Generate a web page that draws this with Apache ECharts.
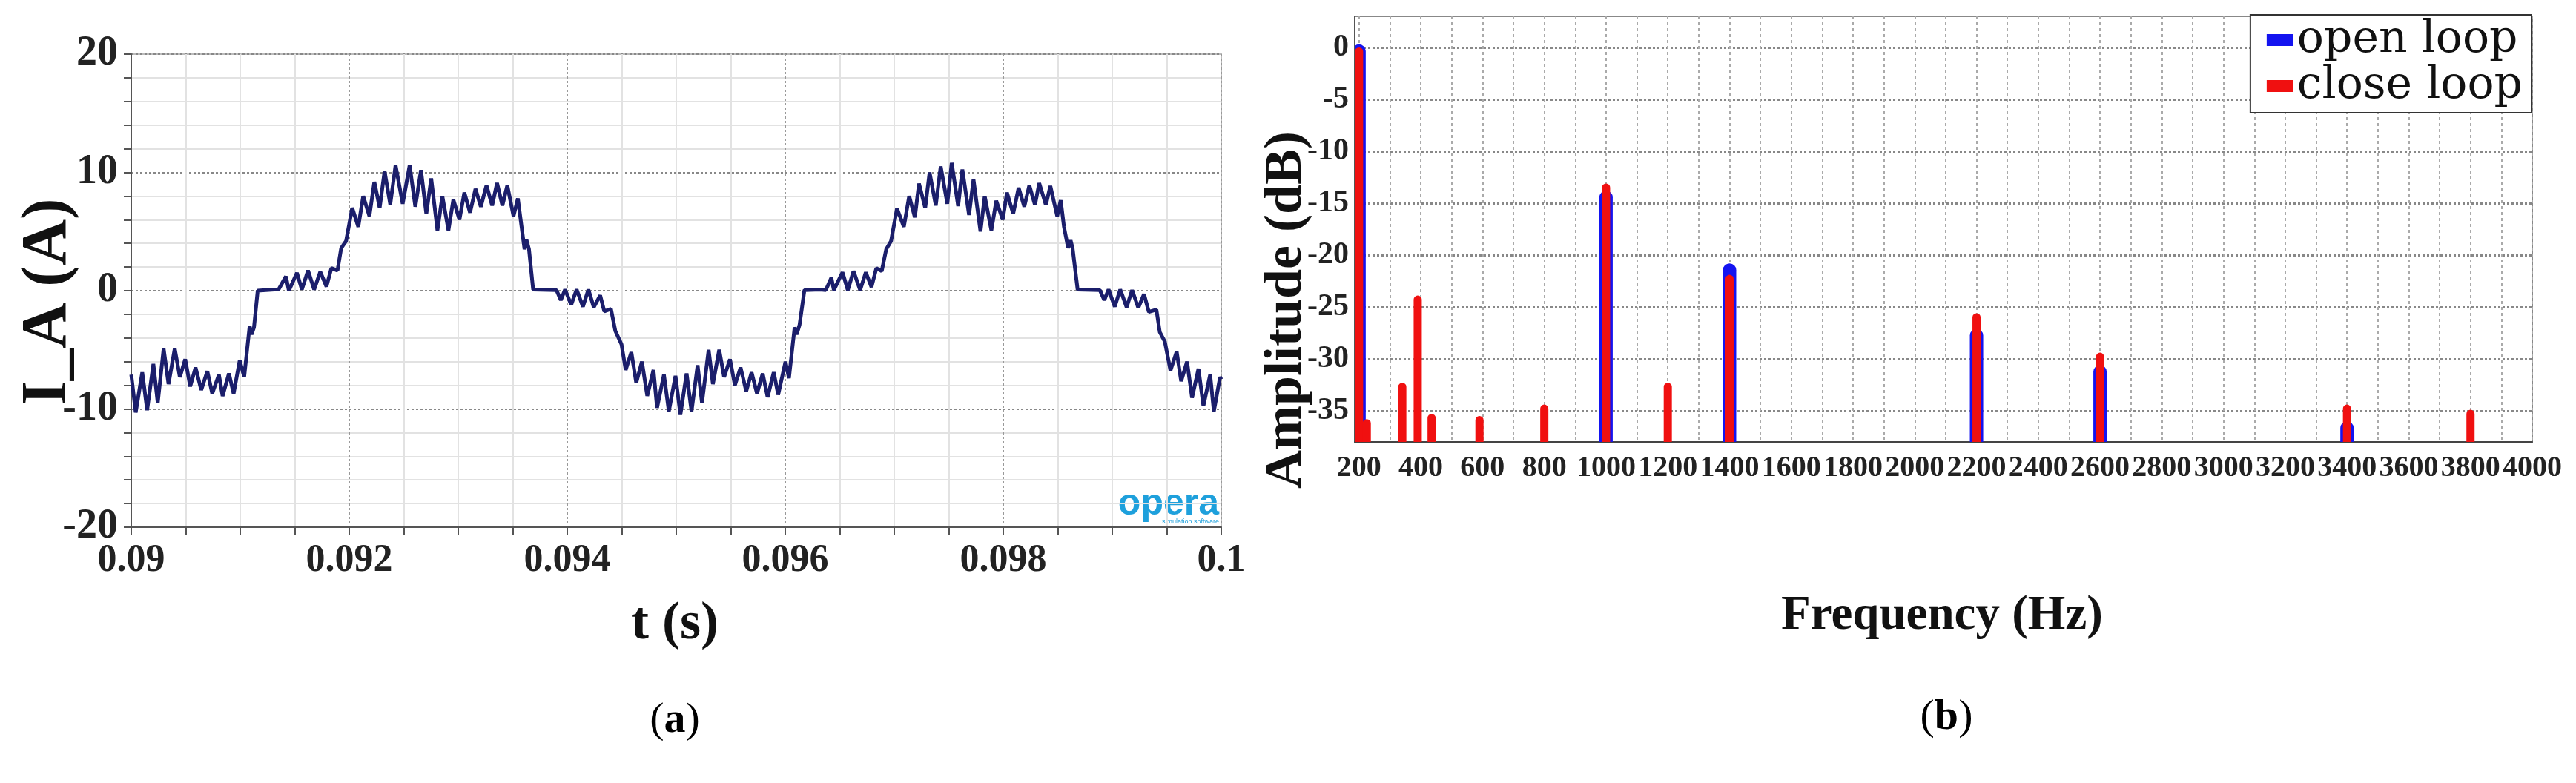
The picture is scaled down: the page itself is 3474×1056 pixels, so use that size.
<!DOCTYPE html>
<html>
<head>
<meta charset="utf-8">
<script src="https://cdn.jsdelivr.net/npm/echarts@6/dist/echarts.min.js"></script>
<style>
  html, body { margin: 0; padding: 0; background: #fff; }
  #main { width: 3474px; height: 1056px; }
</style>
</head>
<body>
<div id="main"></div>
<script>
// (a) phase current I_A, time in ms (axis labels shown in seconds)
const timeMs = [
  90.000, 90.041, 90.101, 90.146, 90.203, 90.243, 90.297, 90.342, 90.399, 90.446,
  90.495, 90.541, 90.590, 90.642, 90.698, 90.743, 90.804, 90.838, 90.896, 90.939,
  90.995, 91.036, 91.086, 91.104, 91.126, 91.160, 91.311, 91.351, 91.419, 91.446,
  91.520, 91.565, 91.622, 91.678, 91.734, 91.791, 91.836, 91.892, 91.926, 91.971,
  92.027, 92.083, 92.128, 92.185, 92.230, 92.279, 92.324, 92.376, 92.425,
  92.490, 92.554, 92.606, 92.658, 92.707, 92.752, 92.809, 92.854, 92.910, 92.955,
  93.011, 93.056, 93.108, 93.158, 93.207, 93.259, 93.311, 93.356, 93.405, 93.450,
  93.507, 93.547, 93.581, 93.608, 93.626, 93.649, 93.687, 93.901, 93.941, 93.980,
  94.036, 94.086, 94.144, 94.194, 94.243, 94.302, 94.340, 94.401, 94.441, 94.498,
  94.536, 94.588, 94.633, 94.685, 94.734, 94.791, 94.824, 94.887, 94.932, 94.993,
  95.038, 95.095, 95.140, 95.196, 95.236, 95.297, 95.336, 95.394, 95.439, 95.493,
  95.538, 95.590, 95.642, 95.691, 95.741, 95.793, 95.838, 95.894, 95.935, 96.002,
  96.034, 96.086, 96.104, 96.131, 96.176, 96.322, 96.372, 96.423, 96.446, 96.525,
  96.574, 96.626, 96.687, 96.739, 96.791, 96.836, 96.885, 96.926, 96.971, 97.025,
  97.088, 97.137, 97.189, 97.227, 97.284, 97.324, 97.381, 97.426, 97.487, 97.527,
  97.586, 97.625, 97.686, 97.727, 97.791, 97.830, 97.891, 97.936, 97.995, 98.034,
  98.091, 98.141, 98.193, 98.239, 98.291, 98.330, 98.391, 98.432, 98.495, 98.527,
  98.557, 98.595, 98.618, 98.636, 98.682, 98.886, 98.927, 98.966, 99.023, 99.073,
  99.132, 99.182, 99.239, 99.291, 99.336, 99.405, 99.436, 99.482, 99.534, 99.591,
  99.632, 99.686, 99.732, 99.791, 99.836, 99.898, 99.932, 99.989, 100.000
];
const currentA = [
  -7.1, -10.3, -6.9, -10.1, -6.2, -9.5, -4.9, -7.9, -4.9, -7.3,
  -5.8, -8.1, -6.5, -8.4, -6.8, -8.7, -7.1, -8.9, -7.0, -8.7,
  -5.9, -7.3, -3.0, -3.7, -3.1, 0.0, 0.1, 0.1, 1.2, 0.0,
  1.5, 0.1, 1.7, 0.1, 1.6, 0.35, 1.9, 1.7, 3.6, 4.2,
  7.0, 5.4, 8.0, 6.3, 9.2, 7.0, 10.1, 7.3, 10.6,
  7.35, 10.6, 7.1, 10.2, 6.5, 9.5, 5.1, 8.0, 5.1, 7.7,
  6.0, 8.3, 6.6, 8.6, 7.1, 8.9, 7.2, 9.1, 7.2, 8.9,
  6.3, 7.8, 5.4, 3.5, 4.3, 3.5, 0.1, 0.05, -0.8, 0.1,
  -1.2, 0.1, -1.35, 0.1, -1.4, -0.4, -1.75, -1.55, -3.4, -4.55,
  -6.7, -5.2, -7.8, -6.0, -8.9, -6.7, -9.9, -7.1, -10.2, -7.2,
  -10.5, -7.0, -10.2, -6.3, -9.5, -5.0, -7.9, -5.0, -7.3, -5.8,
  -8.0, -6.5, -8.5, -6.9, -8.7, -7.0, -9.0, -6.9, -8.8, -6.0,
  -7.4, -3.1, -3.7, -2.9, 0.05, 0.1, 0.05, 1.1, 0.05, 1.55,
  0.05, 1.65, 0.05, 1.55, 0.3, 1.9, 1.65, 3.5, 4.2, 6.95,
  5.4, 8.0, 6.2, 9.05, 7.0, 10.0, 7.2, 10.5, 7.35, 10.8,
  7.15, 10.25, 6.4, 9.4, 5.0, 8.0, 5.1, 7.6, 6.0, 8.3,
  6.5, 8.7, 7.1, 8.9, 7.25, 9.1, 7.25, 8.85, 6.3, 7.65,
  5.4, 3.6, 4.25, 3.6, 0.1, 0.05, -0.8, 0.1, -1.35, 0.1,
  -1.4, 0.05, -1.45, -0.3, -1.8, -1.6, -3.5, -4.3, -6.75, -5.15,
  -7.65, -6.0, -9.05, -6.6, -9.75, -7.1, -10.2, -7.3, -7.5
];

// (b) harmonic spectrum
const openFreq = [200, 1000, 1400, 2200, 2600, 3400];
const openDb = [0.3, -13.8, -20.8, -27.1, -30.6, -36.0];
const closeFreq = [200, 225, 340, 390, 435, 590, 800, 1000, 1200, 1400, 2200, 2600, 3400, 3800];
const closeDb = [0, -35.8, -32.3, -23.9, -35.3, -35.5, -34.4, -13.1, -32.3, -21.9, -25.6, -29.4, -34.4, -34.9];

const freqLabels = [200, 400, 600, 800, 1000, 1200, 1400, 1600, 1800, 2000,
  2200, 2400, 2600, 2800, 3000, 3200, 3400, 3600, 3800, 4000];
const freqGrid = [200, 300, 400, 500, 600, 700, 800, 900, 1000, 1100, 1200, 1300,
  1400, 1500, 1600, 1700, 1800, 1900, 2000, 2100, 2200, 2300, 2400, 2500, 2600,
  2700, 2800, 2900, 3000, 3100, 3200, 3300, 3400, 3500, 3600, 3700, 3800, 3900, 4000];
const dbTicks = [-35, -30, -25, -20, -15, -10, -5, 0];

const DB_MIN = -38;
const SERIF = '"Liberation Serif", "DejaVu Serif", serif';

function spike(width) {
  return function (params, api) {
    const f = api.value(0);
    const top = api.coord([f, api.value(1)]);
    const base = api.coord([f, DB_MIN]);
    return {
      type: 'line',
      shape: { x1: top[0], y1: top[1] + width / 2, x2: base[0], y2: base[1] + width },
      style: { stroke: api.visual('color'), lineWidth: width, lineCap: 'round' }
    };
  };
}

const captionRich = {
  n: { fontFamily: SERIF, fontSize: 58, color: '#111' },
  b: { fontFamily: SERIF, fontSize: 58, fontWeight: 'bold', color: '#111' }
};

const chart = echarts.init(document.getElementById('main'));
chart.setOption({
  animation: false,
  backgroundColor: '#fff',
  grid: [
    { left: 177, top: 73, width: 1470, height: 638, show: true, borderColor: '#bbb', borderWidth: 2 },
    { left: 1827, top: 22, width: 1588, height: 574, show: true, borderColor: '#888', borderWidth: 2 }
  ],
  xAxis: [
    {
      type: 'value', gridIndex: 0, min: 90, max: 100, interval: 2,
      axisLine: { onZero: false, lineStyle: { color: '#555', width: 2 } },
      axisTick: { show: true, length: 10, lineStyle: { color: '#555', width: 2 } },
      minorTick: { show: true, splitNumber: 4, length: 10, lineStyle: { color: '#555', width: 2 } },
      splitLine: { show: true, lineStyle: { color: '#999', width: 2, type: [3, 3] } },
      minorSplitLine: { show: true, lineStyle: { color: '#e2e2e2', width: 2 } },
      axisLabel: {
        formatter: v => String(v / 1000),
        fontFamily: SERIF, fontWeight: 'bold', fontSize: 52, color: '#222', margin: 20
      }
    },
    {
      type: 'value', gridIndex: 1, min: 186, max: 4000,
      axisLine: { onZero: false, lineStyle: { color: '#444', width: 2 } },
      axisTick: { show: false, customValues: freqGrid },
      splitLine: { show: true, lineStyle: { color: '#aaa', width: 2, type: [4, 4] } },
      axisLabel: {
        customValues: freqLabels,
        formatter: v => String(v),
        showMinLabel: true, showMaxLabel: true,
        fontFamily: SERIF, fontWeight: 'bold', fontSize: 40, color: '#222', margin: 16
      }
    }
  ],
  yAxis: [
    {
      type: 'value', gridIndex: 0, min: -20, max: 20, interval: 10,
      axisLine: { show: true, onZero: false, lineStyle: { color: '#555', width: 2 } },
      axisTick: { show: true, length: 10, lineStyle: { color: '#555', width: 2 } },
      minorTick: { show: true, splitNumber: 5, length: 10, lineStyle: { color: '#555', width: 2 } },
      splitLine: { show: true, lineStyle: { color: '#888', width: 2, type: [3, 3] } },
      minorSplitLine: { show: true, lineStyle: { color: '#e2e2e2', width: 2 } },
      axisLabel: { fontFamily: SERIF, fontWeight: 'bold', fontSize: 56, color: '#222', margin: 18 }
    },
    {
      type: 'value', gridIndex: 1, min: DB_MIN, max: 3,
      axisLine: { show: true, onZero: false, lineStyle: { color: '#555', width: 2 } },
      axisTick: { show: false, customValues: dbTicks },
      splitLine: { show: true, lineStyle: { color: '#888', width: 3, type: [3, 3] } },
      axisLabel: {
        customValues: dbTicks,
        fontFamily: SERIF, fontWeight: 'bold', fontSize: 42, color: '#222', margin: 8
      }
    }
  ],
  legend: {
    data: [{ name: 'open loop', icon: 'rect' }, { name: 'close loop', icon: 'rect' }],
    orient: 'vertical',
    right: 60, top: 20,
    backgroundColor: '#fff',
    borderColor: '#333', borderWidth: 2,
    padding: [4, 12, 6, 22],
    itemGap: 2, itemWidth: 36, itemHeight: 16,
    textStyle: { fontFamily: '"DejaVu Serif", serif', fontSize: 60, color: '#111', lineHeight: 48 }
  },
  series: [
    {
      type: 'line', xAxisIndex: 0, yAxisIndex: 0,
      data: timeMs.map((t, i) => [t, currentA[i]]),
      showSymbol: false,
      lineStyle: { color: '#1b1e6b', width: 5 }
    },
    {
      name: 'open loop', type: 'custom', xAxisIndex: 1, yAxisIndex: 1, clip: true,
      itemStyle: { color: '#1414f0' },
      renderItem: spike(18),
      data: openFreq.map((f, i) => [f, openDb[i]])
    },
    {
      name: 'close loop', type: 'custom', xAxisIndex: 1, yAxisIndex: 1, clip: true,
      itemStyle: { color: '#f01010' },
      renderItem: spike(11),
      data: closeFreq.map((f, i) => [f, closeDb[i]])
    }
  ],
  graphic: [
    { type: 'text', x: 66, y: 407, rotation: Math.PI / 2,
      style: { text: 'I_A (A)', font: 'bold 86px ' + SERIF, fill: '#111', align: 'center', verticalAlign: 'middle' } },
    { type: 'text', x: 910, y: 842,
      style: { text: 't (s)', font: 'bold 72px ' + SERIF, fill: '#111', align: 'center', verticalAlign: 'middle' } },
    { type: 'text', x: 910, y: 972,
      style: { text: '{n|(}{b|a}{n|)}', rich: captionRich, align: 'center', verticalAlign: 'middle' } },
    { type: 'text', x: 1644, y: 680,
      style: { text: 'opera', font: 'bold 50px "Liberation Sans", Arial, sans-serif', fill: '#1ea0dc', align: 'right', verticalAlign: 'middle' } },
    { type: 'text', x: 1644, y: 704,
      style: { text: 'simulation software', font: '9px "Liberation Sans", sans-serif', fill: '#1ea0dc', align: 'right', verticalAlign: 'middle' } },
    { type: 'text', x: 1735, y: 418, rotation: Math.PI / 2,
      style: { text: 'Amplitude (dB)', font: 'bold 72px ' + SERIF, fill: '#111', align: 'center', verticalAlign: 'middle' } },
    { type: 'text', x: 2619, y: 831,
      style: { text: 'Frequency (Hz)', font: 'bold 65px ' + SERIF, fill: '#111', align: 'center', verticalAlign: 'middle' } },
    { type: 'text', x: 2625, y: 968,
      style: { text: '{n|(}{b|b}{n|)}', rich: captionRich, align: 'center', verticalAlign: 'middle' } }
  ]
});
</script>
</body>
</html>
